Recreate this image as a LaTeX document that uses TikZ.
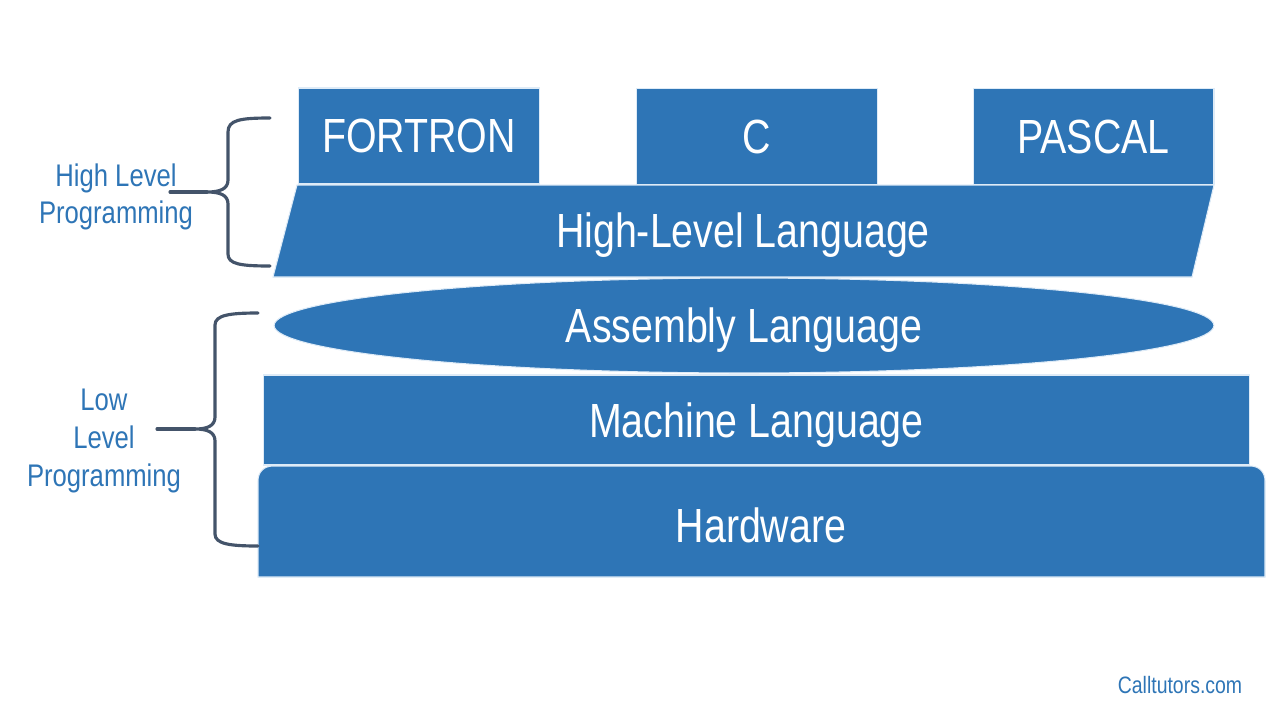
\documentclass[tikz,border=0pt]{standalone}
\usepackage{fontspec}
\setmainfont{Liberation Sans}[FakeStretch=0.82]
\usepackage{tikz}
\usetikzlibrary{shapes.geometric, positioning}
\definecolor{layerblue}{HTML}{2E75B6}
\definecolor{layeredge}{HTML}{DEEBF7}
\definecolor{bracegray}{HTML}{44546A}

\begin{document}
\begin{tikzpicture}[x=0.02cm, y=-0.02cm,
    layer/.style={fill=layerblue, draw=layeredge, line width=0.6pt, text=white,
      font=\fontsize{27.3}{31}\selectfont, inner sep=0pt, text depth=0pt},
    langbox/.style={layer, rectangle, minimum width=4.82cm, minimum height=1.92cm},
    layertext/.style={text=white, font=\fontsize{27.3}{31}\selectfont, inner sep=0pt, text depth=0pt},
    sidelabel/.style={text=layerblue, align=center, font=\fontsize{17.8}{21.5}\selectfont},
    bracket/.style={draw=bracegray, line width=1.8pt, line cap=round}]
      \useasboundingbox (0,0) rectangle (1280,720);
      % languages on top
      \node[langbox] (fortron) at (419,136) {FORTRON};
      \node[langbox] (c)       at (757,136.5) {C};
      \node[langbox] (pascal)  at (1093.5,136.5) {PASCAL};
      % the layers
      \filldraw[layer] (297,185) -- (1214,185) -- (1192,277) -- (273,277) -- cycle;
      \node[layertext] (high) at (743,230) {High-Level Language};
      \node[layer, ellipse, minimum width=18.8cm, minimum height=1.9cm] (asm) at (744,325.5) {Assembly Language};
      \node[layer, rectangle, minimum width=19.74cm, minimum height=1.8cm] (machine) at (756.5,420) {Machine Language};
      \filldraw[layer] (258,577) -- (258,481) .. controls (258,472) and (264,466) .. (273,466)
        -- (1250,466) .. controls (1259,466) and (1265,472) .. (1265,481) -- (1265,577) -- cycle;
      \node[layertext] (hw) at (761,525) {Hardware};
      % braces
      \draw[bracket] (270,118) .. controls (240,118) and (228,120) .. (228,132) -- (228,180)
        .. controls (228,189) and (220,192) .. (207,192)
        .. controls (220,192) and (228,195) .. (228,204) -- (228,254)
        .. controls (228,264) and (240,266) .. (270,266);
      \draw[bracket] (170,192) -- (207,192);
      \draw[bracket] (258,313) .. controls (230,313) and (215,315) .. (215,325) -- (215,417)
        .. controls (215,426) and (207,429) .. (195,429)
        .. controls (207,429) and (215,432) .. (215,441) -- (215,534)
        .. controls (215,544) and (230,546) .. (258,546);
      \draw[bracket] (157,429) -- (195,429);
      \node[sidelabel] (highlbl) at (116,197) {High Level\\Programming};
      \node[sidelabel] (lowlbl)  at (104,441) {Low\\Level\\Programming};
      \node[text=layerblue, font=\fontsize{13.5}{16}\selectfont] (site) at (1180,685) {Calltutors.com};
    \end{tikzpicture}
\end{document}
